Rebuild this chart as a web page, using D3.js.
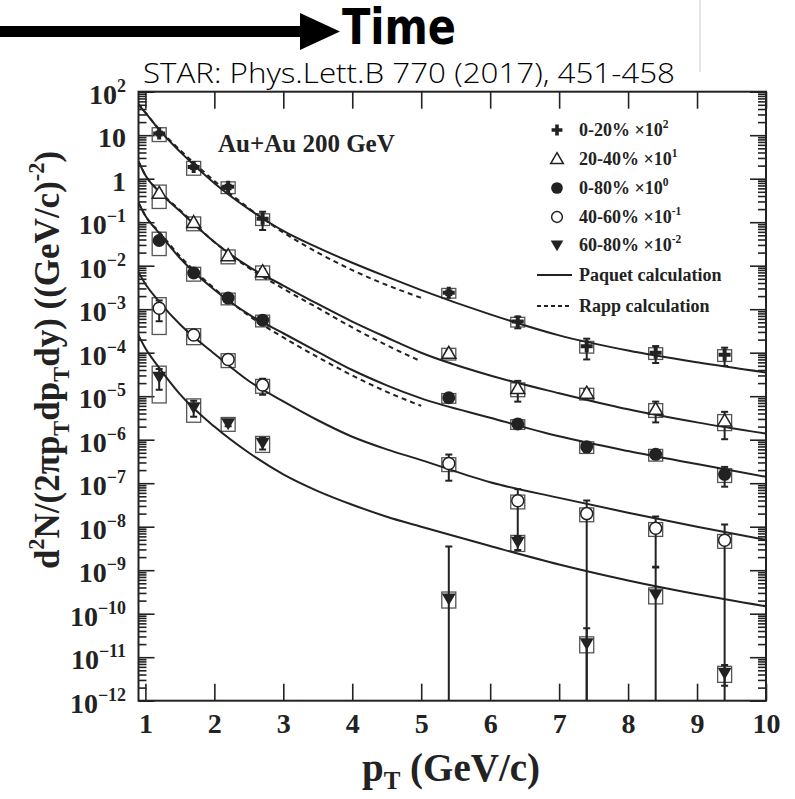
<!DOCTYPE html>
<html>
<head>
<meta charset="utf-8">
<script src="https://cdn.jsdelivr.net/npm/d3@7"></script>
<style>
body { margin: 0; background: #fff; }
</style>
</head>
<body>
<script>
// measured pT bins
var pT = [1.2, 1.7, 2.2, 2.7, 5.4, 6.4, 7.4, 8.4, 9.4];

var cent = ["0-20%", "20-40%", "0-80%", "40-60%", "60-80%"];
var scaleExp = ["2", "1", "0", "-1", "-2"];

// yields (already scaled as in the legend)
var y0020 = [11, 1.85, 0.65, 0.12, 2.4e-3, 5.2e-4, 1.4e-4, 1.0e-4, 9.0e-5];
var y2040 = [0.46, 0.098, 0.017, 7.3e-3, 9.7e-5, 1.5e-5, 1.17e-5, 5.0e-6, 2.7e-6];
var y0080 = [0.038, 6.8e-3, 1.8e-3, 5.6e-4, 9.2e-6, 2.3e-6, 6.9e-7, 4.6e-7, 1.6e-7];
var y4060 = [1.05e-3, 2.55e-4, 7.0e-5, 1.8e-5, 2.85e-7, 3.95e-8, 2.0e-8, 9.2e-9, 4.9e-9];
var y6080 = [2.8e-5, 5.6e-6, 2.4e-6, 8.5e-7, 2.25e-10, 4.5e-9, 2.1e-11, 2.8e-10, 4.4e-12];

// relative stat errors (bars)
var stat0020 = [0.1, 0.1, 0.12, 0.45, 0.12, 0.3, 0.5, 0.42, 0.45];
var stat2040 = [0.1, 0.1, 0.1, 0.15, 0.15, 0.5, 0.2, 0.5, 0.62];
var stat0080 = [0.1, 0.1, 0.1, 0.15, 0.1, 0.12, 0.25, 0.2, 0.48];
var stat4060 = [0.5, 0.12, 0.12, 0.4, 0.6, 0.85, 1.0, 0.87, 1.3];
var stat6080 = [0.5, 0.4, 0.15, 0.3, 14.5, 0.35, 1.2, 3.1, 0.5];

// relative sys errors (boxes)
var sys0020 = [0.35, 0.35, 0.3, 0.3, 0.25, 0.25, 0.3, 0.3, 0.3];
var sys2040 = [0.55, 0.35, 0.35, 0.35, 0.3, 0.35, 0.3, 0.35, 0.4];
var sys0080 = [0.55, 0.35, 0.3, 0.3, 0.25, 0.25, 0.3, 0.3, 0.35];
var sys4060 = [0.75, 0.4, 0.35, 0.35, 0.35, 0.35, 0.35, 0.35, 0.35];
var sys6080 = [0.75, 0.55, 0.35, 0.4, 0.4, 0.4, 0.4, 0.4, 0.4];

// Paquet calculation
var paquetPt = [0.9, 1.0, 1.2, 1.5, 2.0, 2.5, 3.0, 3.5, 4.0, 4.5, 5.0, 6.0, 7.0, 8.0, 9.0, 10.0];
var paquet0020 = [50, 33, 13.2, 4.2, 0.79, 0.20, 0.063, 0.026, 0.0117, 5.6e-3, 2.75e-3, 7.6e-4, 2.5e-4, 1.12e-4, 6.0e-5, 3.5e-5];
var paquet2040 = [2.5, 1.2, 0.50, 0.18, 0.035, 9.5e-3, 3.5e-3, 1.32e-3, 5.2e-4, 2.24e-4, 1.0e-4, 3.0e-5, 1.17e-5, 5.0e-6, 2.5e-6, 1.38e-6];
var paquet0080 = [0.28, 0.14, 0.056, 0.015, 2.8e-3, 7.6e-4, 2.8e-4, 1.05e-4, 4.0e-5, 1.78e-5, 8.9e-6, 3.2e-6, 1.2e-6, 5.5e-7, 2.75e-7, 1.4e-7];
var paquet4060 = [7.1e-3, 3.8e-3, 1.5e-3, 4.5e-4, 9.5e-5, 2.24e-5, 7.6e-6, 2.8e-6, 1.17e-6, 6.0e-7, 3.4e-7, 1.05e-7, 4.6e-8, 2.1e-8, 1.0e-8, 5.0e-9];
var paquet6080 = [2.5e-4, 1.26e-4, 4.5e-5, 1.12e-5, 2.0e-6, 5.0e-7, 1.6e-7, 6.6e-8, 3.2e-8, 1.7e-8, 1.0e-8, 3.6e-9, 1.35e-9, 5.8e-10, 2.8e-10, 1.48e-10];

// Rapp calculation
var rappPt = [0.9, 1.0, 1.2, 1.5, 2.0, 2.5, 3.0, 3.5, 4.0, 4.5, 5.0];
var rapp0020 = [52, 33, 13.8, 4.6, 0.89, 0.21, 0.058, 0.020, 7.9e-3, 3.6e-3, 1.82e-3];
var rapp2040 = [2.5, 1.2, 0.52, 0.19, 0.035, 8.9e-3, 2.95e-3, 1.07e-3, 3.8e-4, 1.48e-4, 6.3e-5];
var rapp0080 = [0.28, 0.14, 0.060, 0.0166, 3.0e-3, 7.1e-4, 2.24e-4, 7.9e-5, 3.0e-5, 1.26e-5, 6.0e-6];

var xTicks = [1, 2, 3, 4, 5, 6, 7, 8, 9, 10];

var series = [
    {vals: y0020, stat: stat0020, sys: sys0020, marker: "plus"},
    {vals: y2040, stat: stat2040, sys: sys2040, marker: "triUp"},
    {vals: y0080, stat: stat0080, sys: sys0080, marker: "dot"},
    {vals: y4060, stat: stat4060, sys: sys4060, marker: "ring"},
    {vals: y6080, stat: stat6080, sys: sys6080, marker: "triDown"}
];
var paquet = [paquet0020, paquet2040, paquet0080, paquet4060, paquet6080];
var rapp = [rapp0020, rapp2040, rapp0080];

var ink = "#222";
var serif = "'Liberation Serif','Times New Roman',serif";

var svg = d3.select("body").append("svg")
    .attr("width", 795)
    .attr("height", 799);

// Header: arrow, Time, citation
svg.append("path")
    .attr("d", "M0,26 H300 V13 L340,31.5 L300,50 V37 H0 Z")
    .attr("fill", "#000");
svg.append("text")
    .attr("x", 342).attr("y", 44)
    .attr("font-family", "'DejaVu Sans Condensed','DejaVu Sans',sans-serif")
    .attr("font-weight", "bold")
    .attr("font-size", 49)
    .attr("textLength", 114)
    .attr("lengthAdjust", "spacingAndGlyphs")
    .text("Time");
svg.append("line")
    .attr("x1", 700).attr("x2", 700).attr("y1", 0).attr("y2", 72)
    .attr("stroke", "#ddd").attr("stroke-width", 1.5);
svg.append("text")
    .attr("x", 143).attr("y", 83)
    .attr("font-family", "'Open Sans',sans-serif")
    .attr("font-weight", 300)
    .attr("font-size", 27)
    .attr("textLength", 532)
    .attr("lengthAdjust", "spacingAndGlyphs")
    .text("STAR: Phys.Lett.B 770 (2017), 451-458");

var x = d3.scaleLinear().domain([0.9, 10]).range([138.5, 766]);
var y = d3.scaleLog().domain([1e-12, 1e2]).range([700.7, 91.7]);

var x0 = x.range()[0], x1 = x.range()[1];
var yTop = y.range()[1], yBot = y.range()[0];

svg.append("clipPath").attr("id", "plotClip")
    .append("rect")
    .attr("x", x0).attr("y", yTop)
    .attr("width", x1 - x0).attr("height", yBot - yTop);

// text with super/subscripts
function rich(t, parts, fs, subShift) {
    var shift = 0;
    parts.forEach(function(p) {
        var target = 0, size = fs;
        if (p[1] == "sup") { target = -0.42 * fs; size = 0.64 * fs; }
        if (p[1] == "sub") { target = (subShift || 0.28) * fs; size = 0.64 * fs; }
        t.append("tspan")
            .attr("dy", target - shift)
            .attr("font-size", size)
            .text(p[0]);
        shift = target;
    });
}

// Axes (ticks point inward on all four sides)
var decades = d3.range(-12, 3).map(function(e) { return Math.pow(10, e); });
var minors = [];
d3.range(-12, 2).forEach(function(e) {
    for (var m = 2; m <= 9; m++) minors.push(m * Math.pow(10, e));
});

function styleAxis(g) {
    g.select(".domain").remove();
    g.selectAll("line").attr("stroke", ink).attr("stroke-width", 1.6);
}

svg.append("g").attr("transform", "translate(" + x0 + ",0)")
    .call(d3.axisLeft(y).tickValues(decades).tickSize(-16).tickFormat(""))
    .call(styleAxis);
svg.append("g").attr("transform", "translate(" + x0 + ",0)")
    .call(d3.axisLeft(y).tickValues(minors).tickSize(-8).tickFormat(""))
    .call(styleAxis);
svg.append("g").attr("transform", "translate(" + x1 + ",0)")
    .call(d3.axisRight(y).tickValues(decades).tickSize(-16).tickFormat(""))
    .call(styleAxis);
svg.append("g").attr("transform", "translate(" + x1 + ",0)")
    .call(d3.axisRight(y).tickValues(minors).tickSize(-8).tickFormat(""))
    .call(styleAxis);
svg.append("g").attr("transform", "translate(0," + yTop + ")")
    .call(d3.axisTop(x).tickValues(xTicks).tickSize(-17).tickFormat(""))
    .call(styleAxis);

var xAxis = svg.append("g").attr("transform", "translate(0," + yBot + ")")
    .call(d3.axisBottom(x).tickValues(xTicks).tickSize(-17).tickPadding(12).tickFormat(d3.format("d")))
    .call(styleAxis);
xAxis.selectAll("text")
    .attr("font-family", serif)
    .attr("font-weight", "bold")
    .attr("font-size", 28)
    .attr("fill", ink);

// y tick labels
d3.range(-12, 3).forEach(function(e) {
    var t = svg.append("text")
        .attr("x", 126)
        .attr("y", y(Math.pow(10, e)) + 12)
        .attr("text-anchor", "end")
        .attr("font-family", serif)
        .attr("font-weight", "bold")
        .attr("fill", ink);
    var parts;
    if (e == 1) parts = [["10"]];
    else if (e == 0) parts = [["1"]];
    else parts = [["10"], [(e < 0 ? "\u2212" + (-e) : "" + e), "sup"]];
    rich(t, parts, 28);
});

// frame
svg.append("rect")
    .attr("x", x0).attr("y", yTop)
    .attr("width", x1 - x0).attr("height", yBot - yTop)
    .attr("fill", "none")
    .attr("stroke", ink)
    .attr("stroke-width", 2);

// axis titles
var xt = svg.append("text")
    .attr("x", 451).attr("y", 781)
    .attr("text-anchor", "middle")
    .attr("font-family", serif)
    .attr("font-weight", "bold")
    .attr("fill", ink);
rich(xt, [["p"], ["T", "sub"], [" (GeV/c)"]], 39, 0.2);

var yt = svg.append("text")
    .attr("transform", "translate(59,360) rotate(-90)")
    .attr("text-anchor", "middle")
    .attr("font-family", serif)
    .attr("font-weight", "bold")
    .attr("fill", ink);
rich(yt, [["d"], ["2", "sup"], ["N/(2\u03c0p"], ["T", "sub"], ["dp"], ["T", "sub"], ["dy) ((GeV/c)"], ["-2", "sup"], [")"]], 35);

svg.append("text")
    .attr("x", 218).attr("y", 152)
    .attr("font-family", serif)
    .attr("font-weight", "bold")
    .attr("font-size", 25)
    .attr("fill", ink)
    .text("Au+Au 200 GeV");

// plot content
var plot = svg.append("g").attr("clip-path", "url(#plotClip)");

// sys boxes
series.forEach(function(s) {
    plot.selectAll(null)
        .data(s.vals)
        .enter().append("rect")
        .attr("x", function(d, i) { return x(pT[i]) - 7; })
        .attr("width", 14)
        .attr("y", function(d, i) { return y(d * (1 + s.sys[i])); })
        .attr("height", function(d, i) { return y(d * (1 - s.sys[i])) - y(d * (1 + s.sys[i])); })
        .attr("fill", "none")
        .attr("stroke", "#555")
        .attr("stroke-width", 1.3);
});

// model curves
var line = d3.line()
    .x(function(d) { return x(d[0]); })
    .y(function(d) { return y(d[1]); })
    .curve(d3.curveMonotoneX);

paquet.forEach(function(vals) {
    plot.append("path")
        .attr("d", line(paquetPt.map(function(p, i) { return [p, vals[i]]; })))
        .attr("fill", "none")
        .attr("stroke", ink)
        .attr("stroke-width", 2);
});
rapp.forEach(function(vals) {
    plot.append("path")
        .attr("d", line(rappPt.map(function(p, i) { return [p, vals[i]]; })))
        .attr("fill", "none")
        .attr("stroke", ink)
        .attr("stroke-width", 2)
        .attr("stroke-dasharray", "5,4");
});

// stat error bars
var yMin = y.domain()[0];
series.forEach(function(s) {
    s.vals.forEach(function(v, i) {
        var cx = x(pT[i]);
        var hi = v * (1 + s.stat[i]);
        var lo = v * (1 - s.stat[i]);
        var toAxis = lo <= yMin;
        var yHi = y(hi), yLo = toAxis ? yBot : y(lo);
        plot.append("line")
            .attr("x1", cx).attr("x2", cx)
            .attr("y1", yHi).attr("y2", yLo)
            .attr("stroke", ink).attr("stroke-width", 2);
        plot.append("line")
            .attr("x1", cx - 3.5).attr("x2", cx + 3.5)
            .attr("y1", yHi).attr("y2", yHi)
            .attr("stroke", ink).attr("stroke-width", 2);
        if (!toAxis) {
            plot.append("line")
                .attr("x1", cx - 3.5).attr("x2", cx + 3.5)
                .attr("y1", yLo).attr("y2", yLo)
                .attr("stroke", ink).attr("stroke-width", 2);
        }
    });
});

// markers
function drawMarker(g, type, cx, cy, k) {
    k = k || 1;
    if (type == "plus") {
        var a = 6 * k, b = 2 * k;
        g.append("path")
            .attr("d", "M" + (cx - a) + "," + (cy - b) + "H" + (cx - b) + "V" + (cy - a) + "H" + (cx + b) +
                "V" + (cy - b) + "H" + (cx + a) + "V" + (cy + b) + "H" + (cx + b) + "V" + (cy + a) +
                "H" + (cx - b) + "V" + (cy + b) + "H" + (cx - a) + "Z")
            .attr("fill", ink);
    } else if (type == "triUp") {
        g.append("path")
            .attr("d", "M" + cx + "," + (cy - 7 * k) + "L" + (cx + 7 * k) + "," + (cy + 5 * k) + "L" + (cx - 7 * k) + "," + (cy + 5 * k) + "Z")
            .attr("fill", "#fff").attr("stroke", ink).attr("stroke-width", 1.5);
    } else if (type == "triDown") {
        g.append("path")
            .attr("d", "M" + (cx - 7 * k) + "," + (cy - 5 * k) + "L" + (cx + 7 * k) + "," + (cy - 5 * k) + "L" + cx + "," + (cy + 7 * k) + "Z")
            .attr("fill", ink);
    } else if (type == "dot") {
        g.append("circle").attr("cx", cx).attr("cy", cy).attr("r", 6.5 * k).attr("fill", ink);
    } else if (type == "ring") {
        g.append("circle").attr("cx", cx).attr("cy", cy).attr("r", 6 * k)
            .attr("fill", "#fff").attr("stroke", ink).attr("stroke-width", 1.5);
    }
}

series.forEach(function(s) {
    s.vals.forEach(function(v, i) {
        drawMarker(plot, s.marker, x(pT[i]), y(v));
    });
});

// legend
var legRows = [130, 159, 188, 217, 245];
series.forEach(function(s, i) {
    drawMarker(svg, s.marker, 557, legRows[i], 0.9);
    var t = svg.append("text")
        .attr("x", 579).attr("y", legRows[i] + 6)
        .attr("font-family", serif)
        .attr("font-weight", "bold")
        .attr("fill", ink);
    rich(t, [[cent[i] + "  \u00d710"], [scaleExp[i], "sup"]], 18);
});
[["Paquet calculation", null, 275], ["Rapp calculation", "4,3", 306]].forEach(function(r) {
    svg.append("line")
        .attr("x1", 537).attr("x2", 572)
        .attr("y1", r[2]).attr("y2", r[2])
        .attr("stroke", ink).attr("stroke-width", 2)
        .attr("stroke-dasharray", r[1]);
    svg.append("text")
        .attr("x", 579).attr("y", r[2] + 6)
        .attr("font-family", serif)
        .attr("font-weight", "bold")
        .attr("font-size", 18)
        .attr("fill", ink)
        .text(r[0]);
});
</script>
</body>
</html>
